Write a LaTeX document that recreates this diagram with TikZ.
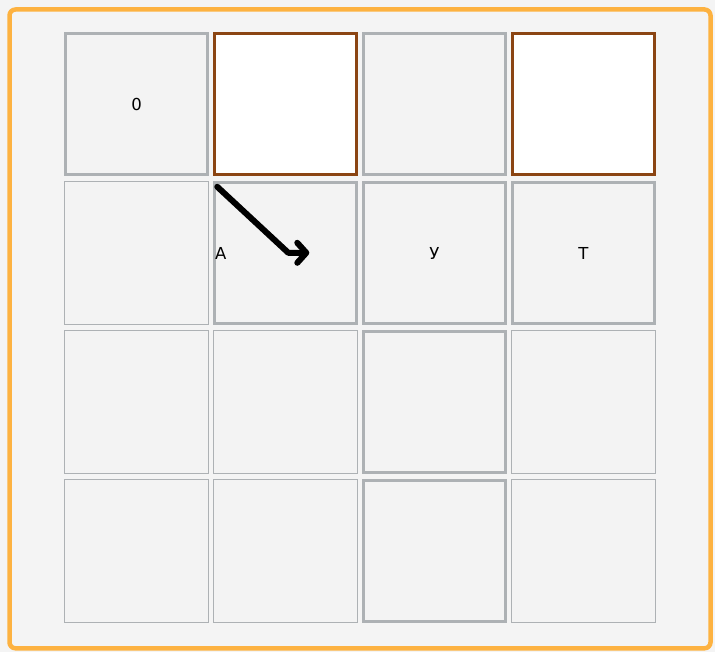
\documentclass[tikz,border=0pt]{standalone}
\usepackage{fontspec}
\setmainfont{DejaVu Sans}
\usepackage{tikz}
\usetikzlibrary{arrows.meta, positioning}
\definecolor{framebg}{HTML}{F4F4F4}
\definecolor{frameline}{HTML}{FDB241}
\definecolor{cellgray}{HTML}{ADB1B4}
\definecolor{wallbrown}{HTML}{8B4513}
\definecolor{cellfill}{HTML}{F3F3F3}

\begin{document}
\begin{tikzpicture}[x=1pt, y=-1pt, font=\fontsize{16.5}{19}\selectfont,
    cellthin/.style={draw=cellgray, line width=1pt, fill=cellfill, minimum size=143.4pt, inner sep=0pt},
    cellthick/.style={draw=cellgray, line width=3pt, fill=cellfill, minimum size=141.4pt, inner sep=0pt},
    cellwall/.style={draw=wallbrown, line width=3pt, fill=white, minimum size=141.4pt, inner sep=0pt},
    pathline/.style={line width=6pt, line cap=round, line join=round,
        -{Straight Barb[length=9pt, width=20pt, line cap=round, line join=round]}}]
    \useasboundingbox (0,0) rectangle (715,652);
    \fill[framebg] (0,0) rectangle (715,652);
    \draw[frameline, line width=4.5pt, rounded corners=6pt, fill=framebg] (9.5,9.5) rectangle (710.5,648.3);

    % grid of cells
    \foreach \r/\c/\kind in {0/0/cellthick, 0/1/cellwall, 0/2/cellthick, 0/3/cellwall,
        1/0/cellthin, 1/1/cellthick, 1/2/cellthick, 1/3/cellthick,
        2/0/cellthin, 2/1/cellthin, 2/2/cellthick, 2/3/cellthin,
        3/0/cellthin, 3/1/cellthin, 3/2/cellthick, 3/3/cellthin}
        \node[\kind] (c\r\c) at ({136.5+149*\c},{104+149*\r}) {};

    % labels
    \node (lab0) at (c00) {0};
    \node[anchor=west, inner sep=1.5pt] (labA) at (c11.west) {А};
    \node (labU) at (c12) {У};
    \node (labT) at (c13) {Т};

    \draw[pathline] ([shift={(4,6)}]c11.north west) -- ++(71,66) -- ++(21,0);
\end{tikzpicture}
\end{document}
